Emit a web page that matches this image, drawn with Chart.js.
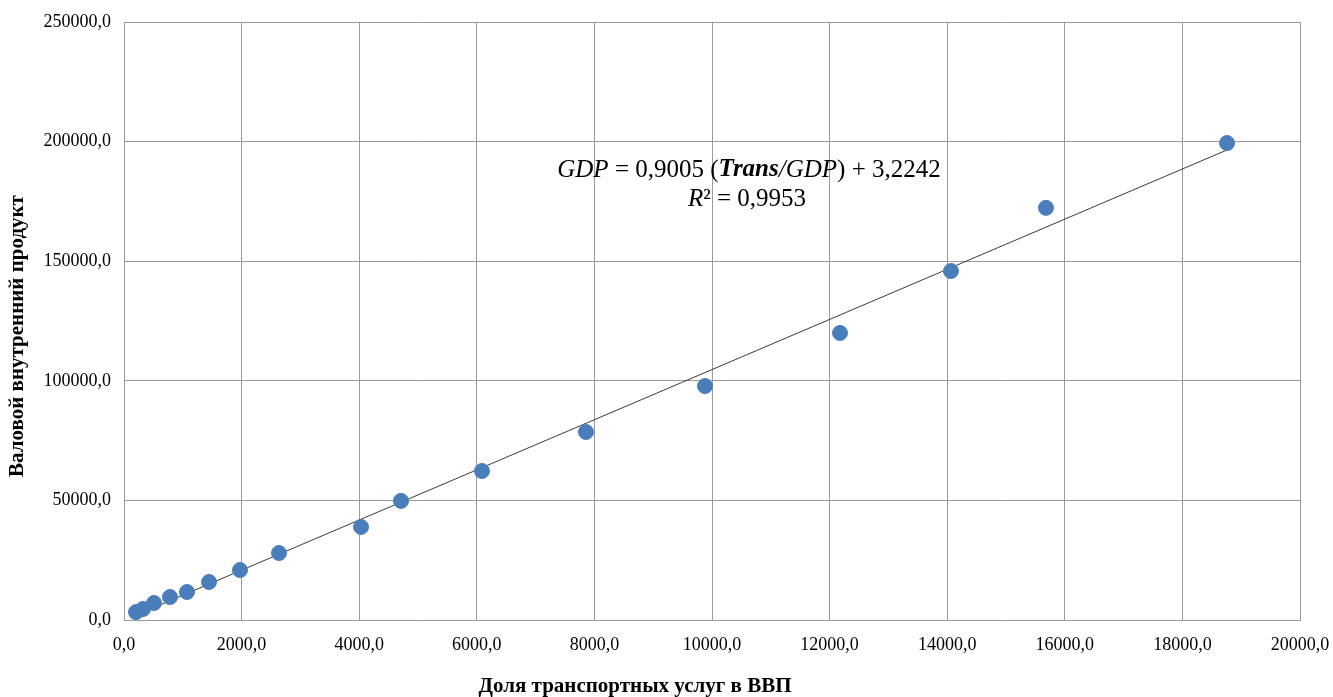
<!DOCTYPE html>
<html>
<head>
<meta charset="utf-8">
<script src="https://cdn.jsdelivr.net/npm/chart.js@4"></script>
<style>
  html, body { margin: 0; padding: 0; background: #fff; }
  #wrap { width: 1333px; height: 697px; position: relative; }
</style>
</head>
<body>
<div id="wrap"><canvas id="c" width="1333" height="697"></canvas></div>
<script>
// Share of transport services in GDP (x) vs gross domestic product (y)
const transShare = [204, 323, 510, 782, 1071, 1446, 1973, 2636, 4031, 4711, 6088, 7857, 9881, 12177, 14064, 15680, 18759];
const gdpValues  = [3300, 4600, 7100, 9600, 11700, 15900, 20900, 28000, 38900, 49800, 62300, 78600, 97800, 120000, 145900, 172300, 199400];

// Linear trend line end points
const trendX = [204, 18759];
const trendY = [2000, 196500];

const xTitle = 'Доля транспортных услуг в ВВП';
const yTitle = 'Валовой внутренний продукт';

const eqLine1 = [
  { t: 'GDP', style: 'italic' },
  { t: ' = 0,9005 (', style: '' },
  { t: 'Trans', style: 'italic bold' },
  { t: '/', style: 'italic' },
  { t: 'GDP', style: 'italic' },
  { t: ') + 3,2242', style: '' }
];
const eqLine2 = [
  { t: 'R', style: 'italic' },
  { t: '² = 0,9953', style: '' }
];

const fmt = v => Number(v).toFixed(1).replace('.', ',');
const FONT = '"Liberation Serif", "Times New Roman", serif';

// Regression equation and axis titles
const textLayer = {
  id: 'textLayer',
  afterDatasetsDraw(chart) {
    const ctx = chart.ctx;
    const drawRuns = (runs, size, cx, cy) => {
      let total = 0;
      runs.forEach(r => { ctx.font = `${r.style} ${size}px ${FONT}`; total += ctx.measureText(r.t).width; });
      let x = cx - total / 2;
      runs.forEach(r => {
        ctx.font = `${r.style} ${size}px ${FONT}`;
        ctx.fillText(r.t, x, cy);
        x += ctx.measureText(r.t).width;
      });
    };
    ctx.save();
    ctx.fillStyle = '#000';
    ctx.textBaseline = 'middle';
    ctx.textAlign = 'left';
    drawRuns(eqLine1, 25, 749, 170);
    drawRuns(eqLine2, 25, 747, 199);

    ctx.font = `bold 21px ${FONT}`;
    ctx.textAlign = 'center';
    ctx.fillText(xTitle, 635, 687);
    ctx.translate(18, 336);
    ctx.rotate(-Math.PI / 2);
    ctx.fillText(yTitle, 0, 0);
    ctx.restore();
  }
};

const data = {
  datasets: [
    {
      type: 'line',
      label: 'trend',
      data: trendX.map((x, i) => ({ x, y: trendY[i] })),
      borderColor: '#3a3a3a',
      borderWidth: 1,
      pointRadius: 0,
      fill: false,
      order: 2
    },
    {
      type: 'scatter',
      label: 'GDP',
      data: transShare.map((x, i) => ({ x, y: gdpValues[i] })),
      backgroundColor: '#4a7ebb',
      borderColor: '#4a7ebb',
      pointRadius: 7.5,
      pointHoverRadius: 7.5,
      order: 1
    }
  ]
};

new Chart(document.getElementById('c'), {
  data,
  plugins: [textLayer],
  options: {
    responsive: false,
    animation: false,
    events: [],
    layout: { padding: { top: 22, right: 33, bottom: 0, left: 0 } },
    plugins: { legend: { display: false }, tooltip: { enabled: false } },
    scales: {
      x: {
        type: 'linear',
        min: 0, max: 20000,
        ticks: {
          stepSize: 2000,
          callback: fmt,
          color: '#000',
          padding: 14,
          maxRotation: 0,
          font: { family: FONT, size: 18 }
        },
        grid: { color: '#9a9a9a', lineWidth: 1, drawTicks: false },
        border: { color: '#9a9a9a' },
        afterFit(s) { s.height = 77; s.paddingLeft = 0; s.paddingRight = 0; }
      },
      y: {
        type: 'linear',
        min: 0, max: 250000,
        ticks: {
          stepSize: 50000,
          callback: fmt,
          color: '#000',
          padding: 13,
          font: { family: FONT, size: 18 }
        },
        grid: { color: '#9a9a9a', lineWidth: 1, drawTicks: false },
        border: { color: '#9a9a9a' },
        afterFit(s) { s.width = 124; s.paddingTop = 0; s.paddingBottom = 0; }
      }
    }
  }
});
</script>
</body>
</html>
